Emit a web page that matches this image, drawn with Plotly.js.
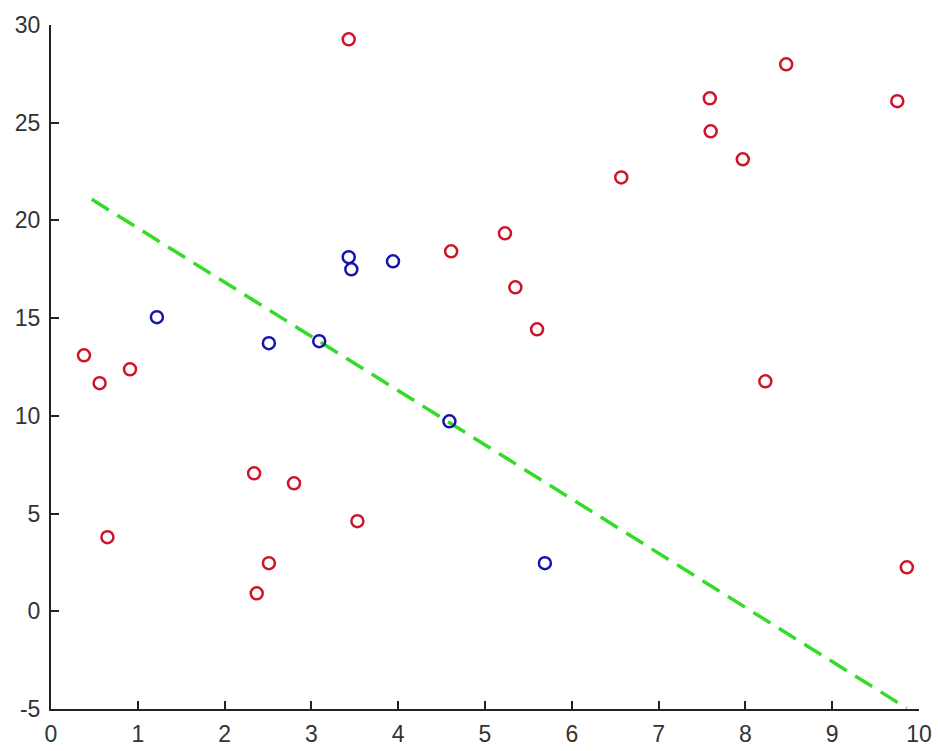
<!DOCTYPE html>
<html>
<head>
<meta charset="utf-8">
<script src="https://cdn.plot.ly/plotly-3.0.1.min.js"></script>
<style>html,body{margin:0;padding:0;background:#fff;}#chart{width:938px;height:751px;}</style>
</head>
<body>
<div id="chart"></div>
<script>
const redX = [0.38, 0.56, 0.91, 0.65, 3.43, 2.34, 2.80, 2.51, 2.37, 3.53, 4.61, 5.23, 5.35, 5.60, 6.57, 7.59, 7.60, 7.97, 8.47, 9.75, 8.23, 9.86];
const redY = [13.1, 11.67, 12.38, 3.79, 29.27, 7.06, 6.55, 2.46, 0.92, 4.61, 18.42, 19.34, 16.58, 14.43, 22.2, 26.25, 24.56, 23.13, 27.99, 26.1, 11.77, 2.25];
const blueX = [1.22, 2.51, 3.09, 3.43, 3.46, 3.94, 4.59, 5.69];
const blueY = [15.05, 13.72, 13.82, 18.12, 17.5, 17.91, 9.72, 2.46];
const lineX = [0.47, 9.86];
const lineY = [21.08, -4.96];
const xTicks = [0,1,2,3,4,5,6,7,8,9,10];
const yTicks = [-5,0,5,10,15,20,25,30];

const traces = [
  {x: lineX, y: lineY, mode: 'lines', type: 'scatter',
   line: {color: 'rgb(50,220,40)', width: 3.5, dash: '20px,10px'}, hoverinfo: 'skip'},
  {x: redX, y: redY, mode: 'markers', type: 'scatter',
   marker: {symbol: 'circle-open', size: 12, color: 'rgb(205,20,40)', line: {width: 2.5, color: 'rgb(205,20,40)'}}},
  {x: blueX, y: blueY, mode: 'markers', type: 'scatter',
   marker: {symbol: 'circle-open', size: 12, color: 'rgb(20,20,175)', line: {width: 2.5, color: 'rgb(20,20,175)'}}}
];

const tickFont = {family: 'Liberation Sans, Arial, sans-serif', size: 23, color: '#333'};
const layout = {
  width: 938, height: 751,
  margin: {l: 51, r: 19, t: 25, b: 42, pad: 0},
  paper_bgcolor: '#fff', plot_bgcolor: '#fff',
  showlegend: false,
  xaxis: {range: [0, 10], tickvals: xTicks, ticktext: xTicks.map(String), ticks: 'inside', ticklen: 8,
          tickwidth: 2, tickcolor: '#222', showline: true, linecolor: '#222', linewidth: 2, mirror: false,
          showgrid: false, zeroline: false, tickfont: tickFont, ticklabelstandoff: 3},
  yaxis: {range: [-5, 30], tickvals: yTicks, ticktext: yTicks.map(String), ticks: 'inside', ticklen: 8,
          tickwidth: 2, tickcolor: '#222', showline: true, linecolor: '#222', linewidth: 2, mirror: false,
          showgrid: false, zeroline: false, tickfont: tickFont, ticklabelstandoff: 4}
};
Plotly.newPlot('chart', traces, layout, {displayModeBar: false, staticPlot: true});
</script>
</body>
</html>
